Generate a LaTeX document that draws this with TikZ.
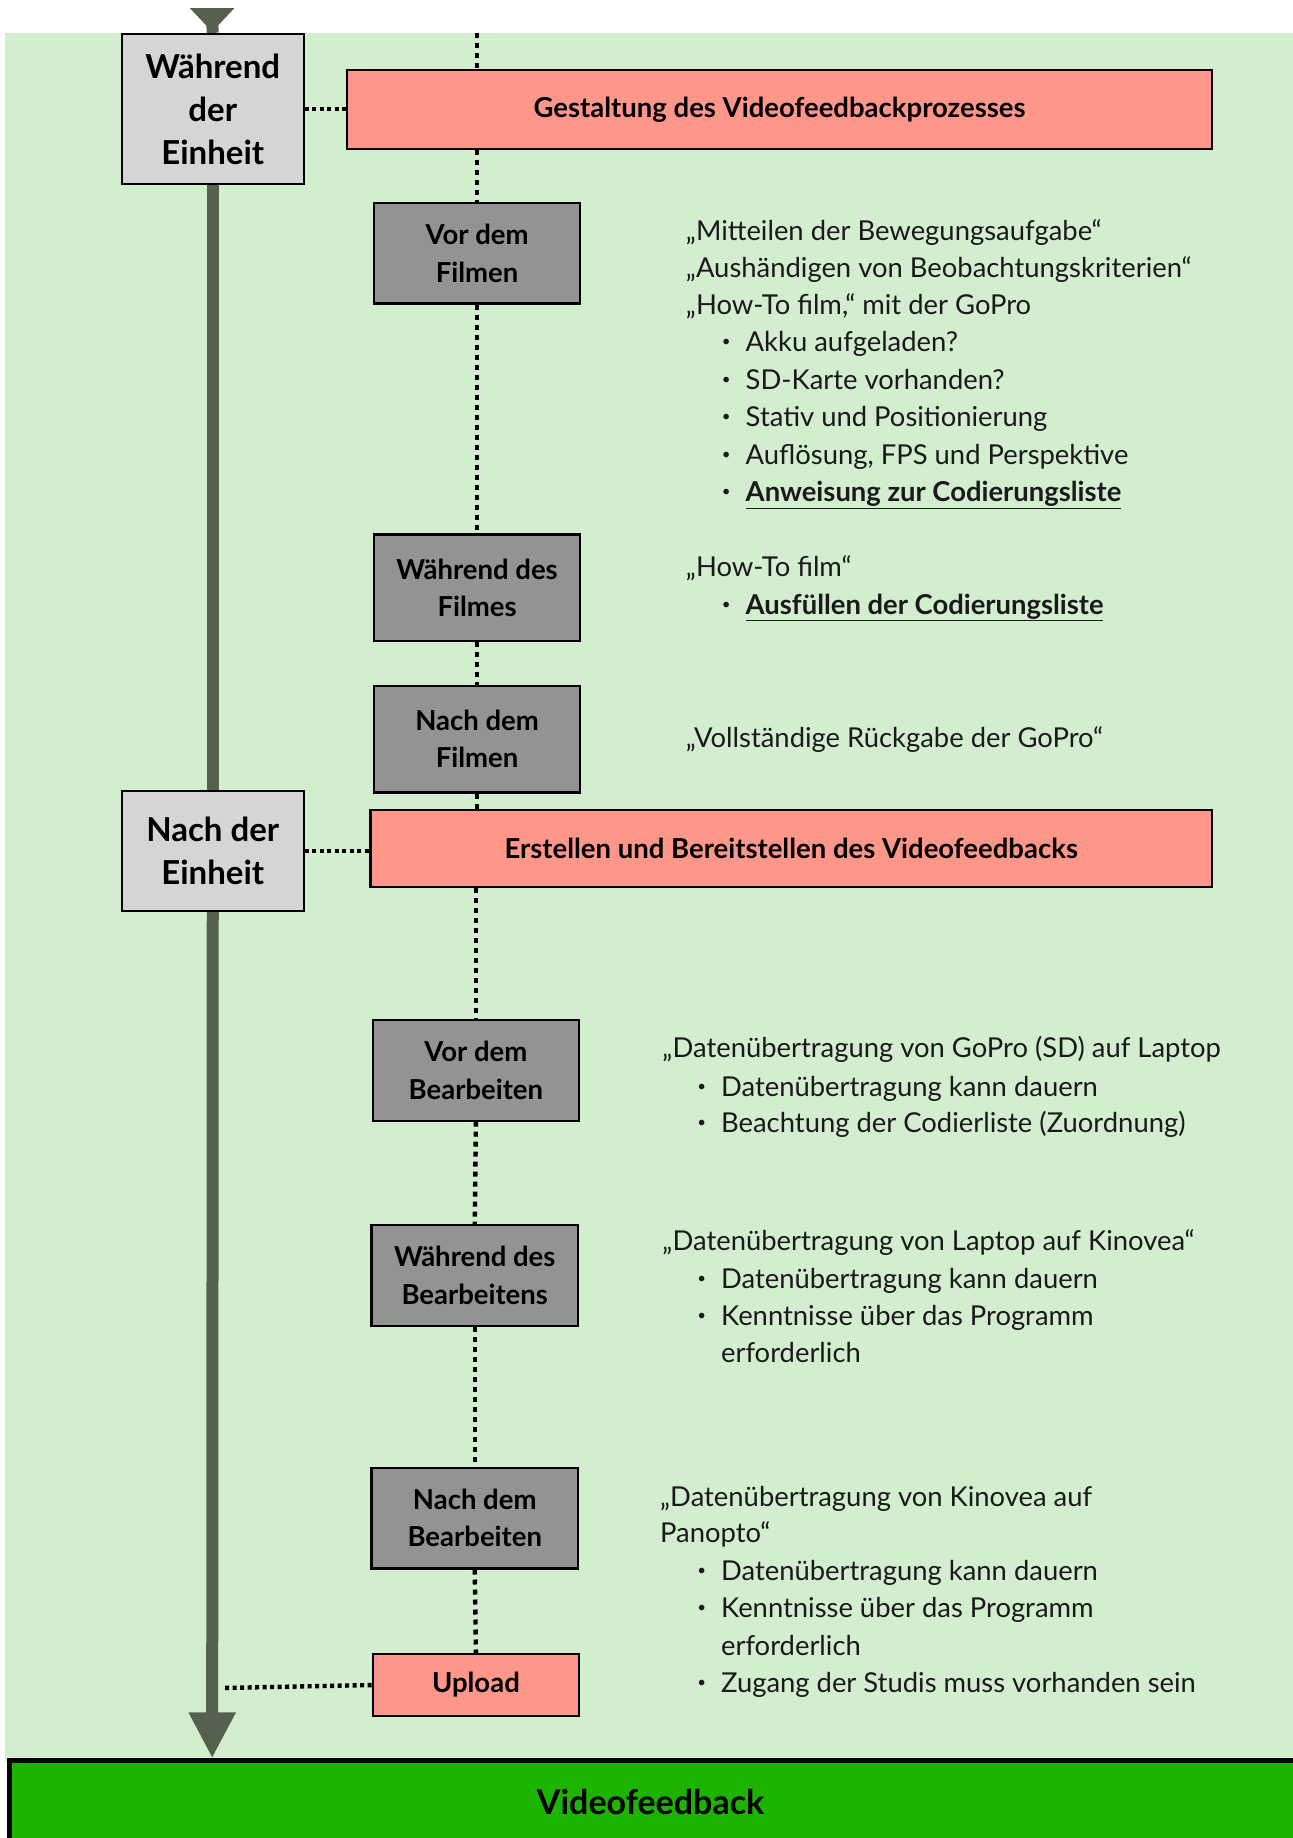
\documentclass[tikz,border=0pt]{standalone}
\usepackage{fontspec}
\setmainfont{Lato}
\usetikzlibrary{arrows.meta}
\definecolor{bg}{HTML}{D2EECF}
\definecolor{salmon}{HTML}{FF968A}
\definecolor{midgrey}{HTML}{939393}
\definecolor{lightgrey}{HTML}{D5D5D5}
\definecolor{axisc}{HTML}{56604F}
\definecolor{vfgreen}{HTML}{1CB400}
\definecolor{txtc}{HTML}{1A1A1A}
\newcommand\mybox[7]{\node[#1, minimum width={(#4-#2)*1.1723pt}, minimum height={(#5-#3)*1.1723pt}] (#6) at ({(#2+#4)/2},{(#3+#5)/2}) {#7};}
\newcommand\bul{\makebox[0pt][r]{\raisebox{0.18em}{\scalebox{0.55}{•}}\hspace{0.55em}}}
\tikzset{
  phase/.style={draw=black, line width=2.2pt, fill=lightgrey, align=center, inner sep=0pt,
    font=\fontsize{33}{43}\selectfont\bfseries},
  stepbox/.style={draw=black, line width=2.2pt, fill=midgrey, align=center, inner sep=0pt,
    font=\fontsize{27.5}{37.5}\selectfont\bfseries},
  taskbox/.style={draw=black, line width=2.2pt, fill=salmon, align=center, inner sep=0pt,
    font=\fontsize{27.5}{37.5}\selectfont\bfseries},
  dots/.style={line width=4.4pt, dash pattern=on 5pt off 5pt},
  hdots/.style={line width=4.4pt, dash pattern=on 4pt off 3.5pt},
  txt/.style={anchor=base west, inner sep=0pt, font=\fontsize{27.4}{27.4}\selectfont, text=txtc},
}
\begin{document}
\begin{tikzpicture}[x=1.1723pt, y=-1.1723pt]
\useasboundingbox (0,0) rectangle (1103,1568);
\fill[white] (0,0) rectangle (1103,1568);
\fill[bg] (4,28) rectangle (1103,1502);

% main axis
\coordinate (ax0) at (181,18);
\coordinate (axend) at (181,1500);
\fill[axisc] (162,7) -- (200,7) -- (181,27) -- cycle;

\mybox{phase}{104}{29}{259}{157}{w}{Während\\der\\Einheit}
\mybox{phase}{104}{675}{259}{777}{n}{Nach der\\Einheit}
\draw[axisc, line width=12pt] (ax0) -- (w.north);
\draw[axisc, line width=12pt] (w.south) -- (n.north);
\draw[axisc, line width=12pt, -{Triangle[width=44pt,length=46pt]}] (n.south) -- (axend);
\mybox{phase}{104}{29}{259}{157}{w}{Während\\der\\Einheit}
\mybox{phase}{104}{675}{259}{777}{n}{Nach der\\Einheit}

% first section
\mybox{taskbox}{296}{60}{1034}{127}{gest}{Gestaltung des Videofeedbackprozesses}
\mybox{stepbox}{319}{173}{495}{259}{vdf}{Vor dem\\Filmen}
\mybox{stepbox}{319}{456}{495}{547}{wdf}{Während des\\Filmes}
\mybox{stepbox}{319}{585}{495}{676}{ndf}{Nach dem\\Filmen}
\mybox{taskbox}{316}{691}{1034}{757}{erst}{Erstellen und Bereitstellen des Videofeedbacks}

% second section
\mybox{stepbox}{318}{870}{494}{956}{vdb}{Vor dem\\Bearbeiten}
\mybox{stepbox}{317}{1045}{493}{1131}{wdb}{Während des\\Bearbeitens}
\mybox{stepbox}{317}{1252}{493}{1338}{ndb}{Nach dem\\Bearbeiten}
\mybox{taskbox}{318}{1411}{494}{1464}{upl}{Upload}

% bottom result
\fill[vfgreen] (8,1502) rectangle (1115,1590);
\draw[black, line width=4.5pt] (8,1590) -- (8,1502) -- (1115,1502);
\node[font=\fontsize{34}{34}\selectfont\bfseries, text=black] (vf) at (555,1537) {Videofeedback};

% dotted connectors
\coordinate (top) at (407,28);
\draw[dots] (top) -- (top |- gest.north);
\draw[dots] (vdf.north |- gest.south) -- (vdf.north);
\draw[dots] (vdf.south) -- (wdf.north);
\draw[dots] (wdf.south) -- (ndf.north);
\draw[dots] (ndf.south) -- (ndf.south |- erst.north);
\draw[dots] (vdb.north |- erst.south) -- (vdb.north);
\draw[dots] (vdb.south) -- (wdb.north);
\draw[dots] (wdb.south) -- (ndb.north);
\draw[dots] (ndb.south) -- (upl.north);
\draw[hdots] (w.east) -- (w.east -| gest.west);
\draw[hdots] (n.east) -- (n.east -| erst.west);
\coordinate (ul) at (190,1440);
\draw[hdots] (upl.west) -- (ul);

% texts
\node[txt] (t1) at (585,205) {„Mitteilen der Bewegungsaufgabe“};
\node[txt] (t2) at (585,237) {„Aushändigen von Beobachtungskriterien“};
\node[txt] (t3) at (585,268) {„How-To film,“ mit der GoPro};
\node[txt] (t4) at (636,300) {\bul Akku aufgeladen?};
\node[txt] (t5) at (636,332) {\bul SD-Karte vorhanden?};
\node[txt] (t6) at (636,364) {\bul Stativ und Positionierung};
\node[txt] (t7) at (636,396) {\bul Auflösung, FPS und Perspektive};
\node[txt] (t8) at (636,428) {\bul\textbf{\underline{Anweisung zur Codierungsliste}}};

\node[txt] (t9) at (585,492) {„How-To film“};
\node[txt] (t10) at (636,524) {\bul\textbf{\underline{Ausfüllen der Codierungsliste}}};

\node[txt] (t11) at (585,638) {„Vollständige Rückgabe der GoPro“};

\node[txt] (t12) at (565,902) {„Datenübertragung von GoPro (SD) auf Laptop};
\node[txt] (t13) at (615,935) {\bul Datenübertragung kann dauern};
\node[txt] (t14) at (615,966) {\bul Beachtung der Codierliste (Zuordnung)};

\node[txt] (t15) at (565,1067) {„Datenübertragung von Laptop auf Kinovea“};
\node[txt] (t16) at (615,1099) {\bul Datenübertragung kann dauern};
\node[txt] (t17) at (615,1131) {\bul Kenntnisse über das Programm};
\node[txt] (t18) at (615,1162) {erforderlich};

\node[txt] (t19) at (563,1285) {„Datenübertragung von Kinovea auf};
\node[txt] (t20) at (563,1316) {Panopto“};
\node[txt] (t21) at (615,1348) {\bul Datenübertragung kann dauern};
\node[txt] (t22) at (615,1380) {\bul Kenntnisse über das Programm};
\node[txt] (t23) at (615,1412) {erforderlich};
\node[txt] (t24) at (615,1444) {\bul Zugang der Studis muss vorhanden sein};
\end{tikzpicture}
\end{document}
